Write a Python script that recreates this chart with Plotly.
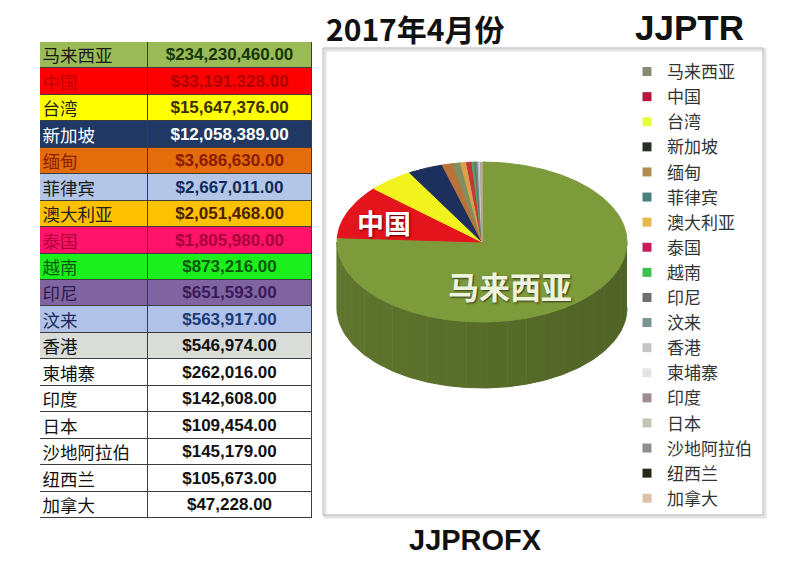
import numpy as np
import plotly.graph_objects as go

# 数据: 2017年4月份 各国金额
countries = ['马来西亚', '中国', '台湾', '新加坡', '缅甸', '菲律宾', '澳大利亚', '泰国', '越南',
             '印尼', '汶来', '香港', '柬埔寨', '印度', '日本', '沙地阿拉伯', '纽西兰', '加拿大']
values = [234230460, 33191328, 15647376, 12058389, 3686630, 2667011, 2051468, 1805980, 873216,
          651593, 563917, 546974, 262016, 142608, 109454, 145179, 105673, 47228]

# 表格颜色
row_fill = ['#9bbb59', '#ff0000', '#ffff00', '#1f3864', '#e46c0a', '#b4c6e7', '#ffc000', '#ff1469',
            '#1cf01c', '#8064a2', '#b0c2e8', '#dadcd8', '#ffffff', '#ffffff', '#ffffff', '#ffffff',
            '#ffffff', '#ffffff']
name_color = ['#1a1a1a', '#c00000', '#222222', '#ffffff', '#8a2000', '#1a1a1a', '#222222', '#b0003a',
              '#0a5a0a', '#2a1a4a', '#1a2a5a', '#111111', '#111111', '#111111', '#111111', '#111111',
              '#111111', '#111111']
value_color = ['#17360a', '#b00000', '#3a3000', '#ffffff', '#8a1a00', '#0d2a5a', '#4a2000', '#a8003a',
               '#0a5a0a', '#3a1a5a', '#1a3a7a', '#111111', '#111111', '#111111', '#111111', '#111111',
               '#111111', '#111111']
# 饼图颜色 / 图例颜色
pie_colors = ['#7e9b3c', '#e3141b', '#f2f21e', '#1d2f5c', '#b8733a', '#7f8f5f', '#d9a24a', '#c8323c',
              '#4caa5a', '#707070', '#6c8c8c', '#bdbdbd', '#d8d8d8', '#a08890', '#c8c8b8', '#909090',
              '#2a2a1a', '#e0c0a8']
legend_colors = ['#868c74', '#b8143c', '#e8ff3c', '#263028', '#b08c50', '#4c8080', '#e8b850', '#c81c5a',
                 '#3cc050', '#6e6e6e', '#7a9494', '#c4c4c4', '#e4e4e4', '#a08c94', '#c4c4b4', '#8e8e8e',
                 '#232a18', '#dcc0a8']

CJK = 'Noto Sans CJK SC'
W, H = 800, 564
NAME_W, VALUE_W = 108, 164  # 表格列宽 (px)


def darker(hex_color, k):
    r, g, b = (int(hex_color[i:i + 2], 16) for i in (1, 3, 5))
    return 'rgb(%d,%d,%d)' % (r * k, g * k, b * k)


money = ['$' + format(v, ',.2f') for v in values]

fig = go.Figure()

# 左侧表格 (用横向条形画单元格)
fig.add_trace(go.Bar(
    y=countries, x=[NAME_W] * len(countries), orientation='h', xaxis='x2', yaxis='y2',
    marker=dict(color=row_fill, line=dict(color='#3c3c3c', width=1)),
    text=countries, textposition='inside', insidetextanchor='start', textangle=0,
    constraintext='none', textfont=dict(family=CJK, size=17.5, color=name_color),
    hoverinfo='skip', showlegend=False))
fig.add_trace(go.Bar(
    y=countries, x=[VALUE_W] * len(countries), orientation='h', xaxis='x2', yaxis='y2',
    marker=dict(color=row_fill, line=dict(color='#3c3c3c', width=1)),
    text=money, textposition='inside', insidetextanchor='middle', textangle=0,
    constraintext='none',
    textfont=dict(family='Liberation Sans', size=17, color=value_color, weight='bold'),
    hoverinfo='skip', showlegend=False))

# 3D 饼图 (椭圆)
cx, cy, rx, ry, depth = 482, 242, 145, 80, 66
total = float(sum(values))
edges = np.concatenate([[0], np.cumsum(values) / total * 360])


def rim(a0, a1):
    t = np.radians(np.linspace(a0, a1, max(int((a1 - a0) * 2), 2)))
    return cx + rx * np.sin(t), cy - ry * np.cos(t)


# 侧面
for i in range(len(values)):
    a0, a1 = max(edges[i], 90), min(edges[i + 1], 270)
    if a1 <= a0:
        continue
    steps = np.arange(a0, a1, 8.0).tolist() + [a1]
    for s0, s1 in zip(steps[:-1], steps[1:]):
        xs, ys = rim(s0, s1)
        mid = np.radians((s0 + s1) / 2)
        k = 0.76 - 0.12 * (1 + np.sin(mid)) / 2
        col = darker(pie_colors[i], k)
        fig.add_trace(go.Scatter(
            x=list(xs) + list(xs[::-1]), y=list(ys) + list((ys + depth)[::-1]),
            mode='lines', fill='toself', fillcolor=col, line=dict(color=col, width=1),
            hoverinfo='skip', showlegend=False))

# 顶面
for i in range(len(values)):
    xs, ys = rim(edges[i], edges[i + 1])
    fig.add_trace(go.Scatter(
        x=[cx] + list(xs) + [cx], y=[cy] + list(ys) + [cy],
        mode='lines', fill='toself', fillcolor=pie_colors[i],
        line=dict(color=pie_colors[i], width=1),
        hoverinfo='skip', showlegend=False))

# 图例
for name, col in zip(countries, legend_colors):
    fig.add_trace(go.Scatter(x=[None], y=[None], mode='markers', name=name,
                             marker=dict(symbol='square', size=9, color=col)))

fig.update_layout(
    width=W, height=H, margin=dict(l=0, r=0, t=0, b=0),
    paper_bgcolor='white', plot_bgcolor='white',
    barmode='stack', bargap=0,
    xaxis=dict(domain=[318 / W, 768 / W], range=[318, 768], visible=False, fixedrange=True),
    yaxis=dict(domain=[1 - 520 / H, 1 - 43 / H], range=[520, 43], visible=False, fixedrange=True),
    xaxis2=dict(domain=[40 / W, 312 / W], range=[0, NAME_W + VALUE_W], visible=False,
                fixedrange=True, anchor='y2'),
    yaxis2=dict(domain=[1 - 518 / H, 1 - 42 / H], autorange='reversed', visible=False,
                fixedrange=True, anchor='x2'),
    legend=dict(x=627 / W, y=1 - 54 / H, xanchor='left', yanchor='top', traceorder='normal',
                font=dict(family=CJK, size=17, color='#333333'),
                bgcolor='rgba(0,0,0,0)', itemwidth=30, tracegroupgap=0),
    shapes=[
        dict(type='rect', xref='x', yref='y', x0=325, x1=765, y0=50, y1=517,
             line=dict(color='#e2e2e2', width=3), layer='below'),
        dict(type='rect', xref='x', yref='y', x0=323, x1=763, y0=48, y1=515,
             line=dict(color='#b4b4b4', width=1), layer='below'),
    ],
    annotations=[
        dict(text='<b>2017年4月份</b>', x=415 / W, y=1 - 28 / H, xref='paper', yref='paper',
             xanchor='center', yanchor='middle', showarrow=False,
             font=dict(family=CJK, size=30, color='#111111')),
        dict(text='<b>JJPTR</b>', x=689 / W, y=1 - 28 / H, xref='paper', yref='paper',
             xanchor='center', yanchor='middle', showarrow=False,
             font=dict(family='Liberation Sans', size=35, color='#111111')),
        dict(text='<b>JJPROFX</b>', x=475 / W, y=1 - 540 / H, xref='paper', yref='paper',
             xanchor='center', yanchor='middle', showarrow=False,
             font=dict(family='Liberation Sans', size=29, color='#111111')),
        dict(text='<b>中国</b>', x=384, y=222, xref='x', yref='y', showarrow=False,
             font=dict(family=CJK, size=27, color='#ffffff', shadow='1px 1px 2px #600000')),
        dict(text='<b>马来西亚</b>', x=510, y=285, xref='x', yref='y', showarrow=False,
             font=dict(family=CJK, size=31, color='#eef3dc', shadow='1px 1px 2px #303a18')),
    ],
)

fig.write_html('out.html', config={'displayModeBar': False},
               post_script="document.body.style.margin='0px';")
